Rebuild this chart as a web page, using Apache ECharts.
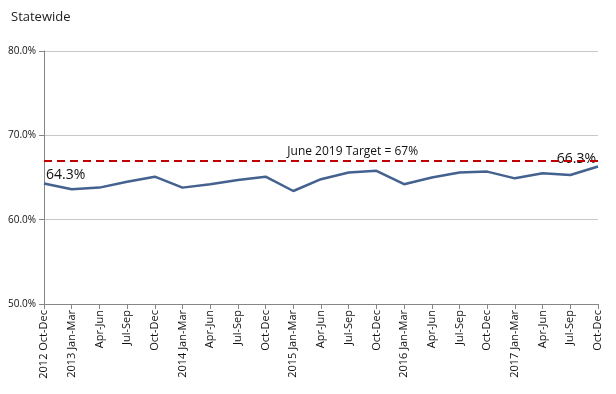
<!DOCTYPE html>
<html><head><meta charset="utf-8">
<script src="https://cdn.jsdelivr.net/npm/echarts@6/dist/echarts.min.js"></script>
<style>html,body{margin:0;padding:0;background:#fff}#c{width:616px;height:394px}</style>
</head><body><div id="c"></div>
<script>
const categories = ["2012 Oct-Dec","2013 Jan-Mar","Apr-Jun","Jul-Sep","Oct-Dec","2014 Jan-Mar","Apr-Jun","Jul-Sep","Oct-Dec","2015 Jan-Mar","Apr-Jun","Jul-Sep","Oct-Dec","2016 Jan-Mar","Apr-Jun","Jul-Sep","Oct-Dec","2017 Jan-Mar","Apr-Jun","Jul-Sep","Oct-Dec"];
const statewide = [64.3,63.6,63.8,64.5,65.1,63.8,64.2,64.7,65.1,63.4,64.8,65.6,65.8,64.2,65.0,65.6,65.7,64.9,65.5,65.3,66.3];
const targetValue = 67;
const targetLabel = "June 2019 Target = 67%";
const targetLabelIndex = 11;
const yTicks = [50, 60, 70, 80];
const title = "Statewide";

const font = "'Open Sans', 'Noto Sans', sans-serif";
const chart = echarts.init(document.getElementById('c'));
const last = statewide.length - 1;
chart.setOption({
  animation: false,
  title: { text: title, left: 6, top: 6, textStyle: { fontFamily: font, fontSize: 13, fontWeight: 'normal', color: '#222' } },
  grid: { left: 44, right: 18, top: 51, bottom: 90 },
  xAxis: {
    type: 'category', data: categories, boundaryGap: false,
    axisLine: { lineStyle: { color: '#868686', width: 1 } },
    axisTick: { show: true, length: 5, alignWithLabel: true, lineStyle: { color: '#868686' } },
    axisLabel: { rotate: 90, interval: 0, fontFamily: font, fontSize: 11, color: '#111', margin: 6 }
  },
  yAxis: {
    type: 'value', min: yTicks[0], max: yTicks[yTicks.length - 1], interval: 10,
    axisLine: { show: true, lineStyle: { color: '#868686' } },
    axisTick: { show: true, length: 5, lineStyle: { color: '#868686' } },
    axisLabel: { formatter: v => v.toFixed(1) + '%', fontFamily: font, fontSize: 10, color: '#111', margin: 8 },
    splitLine: { lineStyle: { color: '#c8c8c8', width: 1 } }
  },
  series: [
    {
      type: 'line',
      data: statewide.map((v, i) => {
        if (i === 0) return { value: v, label: { show: true, position: 'top', align: 'left', offset: [2, 4], formatter: '{c}%' } };
        if (i === last) return { value: v, label: { show: true, position: 'top', align: 'right', offset: [-2, 4], formatter: '{c}%' } };
        return v;
      }),
      showSymbol: true, symbol: 'circle', symbolSize: 0,
      itemStyle: { color: '#44618F' },
      lineStyle: { color: '#44618F', width: 2.5 },
      label: { fontFamily: font, fontSize: 14, color: '#111' },
      markLine: {
        silent: true, symbol: 'none',
        lineStyle: { color: '#C00000', type: [8, 5], width: 2 },
        label: { show: false },
        data: [{ yAxis: targetValue }]
      },
      markPoint: {
        silent: true, symbol: 'circle', symbolSize: 0,
        label: { show: true, position: 'top', distance: 3, offset: [4, 0], formatter: targetLabel, fontFamily: font, fontSize: 12, color: '#111' },
        data: [{ coord: [targetLabelIndex, targetValue] }]
      }
    }
  ]
});
</script></body></html>
